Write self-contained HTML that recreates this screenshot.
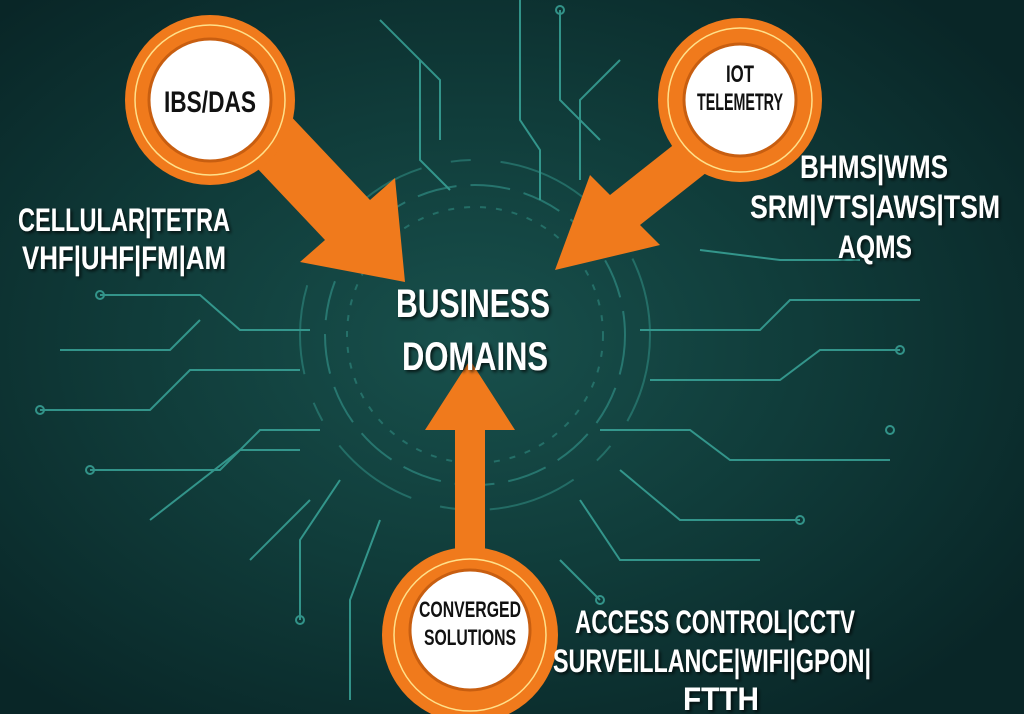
<!DOCTYPE html>
<html><head><meta charset="utf-8"><style>
html,body{margin:0;padding:0;background:#0a2a2b}
svg{display:block}
text{font-family:"Liberation Sans Narrow","Liberation Sans",sans-serif;font-weight:bold}
</style></head><body>
<svg width="1024" height="714" viewBox="0 0 1024 714" xmlns="http://www.w3.org/2000/svg">
<defs>
<radialGradient id="bg" cx="0.46" cy="0.48" r="0.65">
<stop offset="0" stop-color="#18504c"/><stop offset="0.5" stop-color="#103c3a"/><stop offset="1" stop-color="#092627"/>
</radialGradient>
<filter id="sh"><feDropShadow dx="2" dy="2" stdDeviation="1.5" flood-color="#000" flood-opacity="0.7"/></filter>
</defs>
<rect width="1024" height="714" fill="url(#bg)"/>
<g stroke="#3fb3a6" stroke-width="2" fill="none" opacity="0.75">
<circle cx="475" cy="335" r="150" stroke-dasharray="40 14" opacity="0.6"/>
<circle cx="475" cy="335" r="175" stroke-dasharray="90 30 20 30" opacity="0.5"/>
<circle cx="475" cy="335" r="128" stroke-dasharray="6 10" opacity="0.5"/>
<path d="M100 295 H200 L240 330 H310"/><circle cx="100" cy="295" r="4"/>
<path d="M40 410 H150 L190 370 H300"/><circle cx="40" cy="410" r="4"/>
<path d="M60 350 H170 L200 320"/>
<path d="M90 470 H220 L260 430 H320"/><circle cx="90" cy="470" r="4"/>
<path d="M150 520 L240 450 H300"/>
<path d="M600 430 H690 L730 460 H890"/><circle cx="890" cy="430" r="4"/>
<path d="M650 380 H780 L820 350 H900"/><circle cx="900" cy="350" r="4"/>
<path d="M640 330 H760 L790 300 H920"/>
<path d="M620 470 L680 520 H800"/><circle cx="800" cy="520" r="4"/>
<path d="M580 500 L620 560 H760"/>
<path d="M520 0 V120 L540 150 V200"/>
<path d="M560 10 V100 L600 140"/><circle cx="560" cy="10" r="4"/>
<path d="M420 60 V160 L450 190"/>
<path d="M380 20 L440 80 V140"/>
<path d="M620 60 L580 100 V180"/>
<path d="M340 480 L300 540 V620"/><circle cx="300" cy="620" r="4"/>
<path d="M380 520 L350 600 V700"/>
<path d="M560 560 L600 600"/><circle cx="600" cy="600" r="4"/>
<path d="M250 560 L310 500"/>
<path d="M700 250 L780 260 H860"/>
</g>
<g fill="#f07a1c">
<polygon points="250,135 285,110 370,200 395,178 405,282 300,262 325,240 240,150"/>
<polygon points="705,120 735,150 640,225 660,245 555,270 590,175 610,195"/>
<polygon points="455,560 485,560 485,430 515,430 470,360 425,430 455,430"/>
</g>
<g>
<circle cx="210" cy="100" r="85" fill="#f07a1c"/>
<circle cx="210" cy="100" r="75" fill="none" stroke="#ffe08a" stroke-width="1.5"/>
<circle cx="210" cy="100" r="61" fill="#fff" stroke="#c85e10" stroke-width="3"/>
<circle cx="740" cy="100" r="82" fill="#f07a1c"/>
<circle cx="740" cy="100" r="72" fill="none" stroke="#ffe08a" stroke-width="1.5"/>
<circle cx="740" cy="100" r="56" fill="#fff" stroke="#c85e10" stroke-width="3"/>
<circle cx="470" cy="635" r="88" fill="#f07a1c"/>
<circle cx="470" cy="635" r="76" fill="none" stroke="#ffe08a" stroke-width="1.5"/>
<circle cx="470" cy="630" r="60" fill="#fff" stroke="#c85e10" stroke-width="3"/>
</g>
<g fill="#111" text-anchor="middle">
<text x="210" y="112" font-size="30" textLength="92" lengthAdjust="spacingAndGlyphs">IBS/DAS</text>
<text x="740" y="82" font-size="24" textLength="28" lengthAdjust="spacingAndGlyphs">IOT</text>
<text x="740" y="110" font-size="24" textLength="86" lengthAdjust="spacingAndGlyphs">TELEMETRY</text>
<text x="470" y="617" font-size="22" textLength="102" lengthAdjust="spacingAndGlyphs">CONVERGED</text>
<text x="470" y="645" font-size="22" textLength="92" lengthAdjust="spacingAndGlyphs">SOLUTIONS</text>
</g>
<g fill="#fff" filter="url(#sh)">
<text x="18" y="231" font-size="32" textLength="212" lengthAdjust="spacingAndGlyphs">CELLULAR|TETRA</text>
<text x="22" y="269" font-size="32" textLength="204" lengthAdjust="spacingAndGlyphs">VHF|UHF|FM|AM</text>
<text x="396" y="317" font-size="40" textLength="154" lengthAdjust="spacingAndGlyphs">BUSINESS</text>
<text x="402" y="370" font-size="40" textLength="146" lengthAdjust="spacingAndGlyphs">DOMAINS</text>
<text x="800" y="178" font-size="32" textLength="148" lengthAdjust="spacingAndGlyphs">BHMS|WMS</text>
<text x="750" y="218" font-size="32" textLength="250" lengthAdjust="spacingAndGlyphs">SRM|VTS|AWS|TSM</text>
<text x="838" y="258" font-size="32" textLength="74" lengthAdjust="spacingAndGlyphs">AQMS</text>
<text x="575" y="633" font-size="32" textLength="280" lengthAdjust="spacingAndGlyphs">ACCESS CONTROL|CCTV</text>
<text x="553" y="672" font-size="32" textLength="318" lengthAdjust="spacingAndGlyphs">SURVEILLANCE|WIFI|GPON|</text>
<text x="683" y="710" font-size="32" textLength="76" lengthAdjust="spacingAndGlyphs">FTTH</text>
</g>
</svg>
</body></html>
